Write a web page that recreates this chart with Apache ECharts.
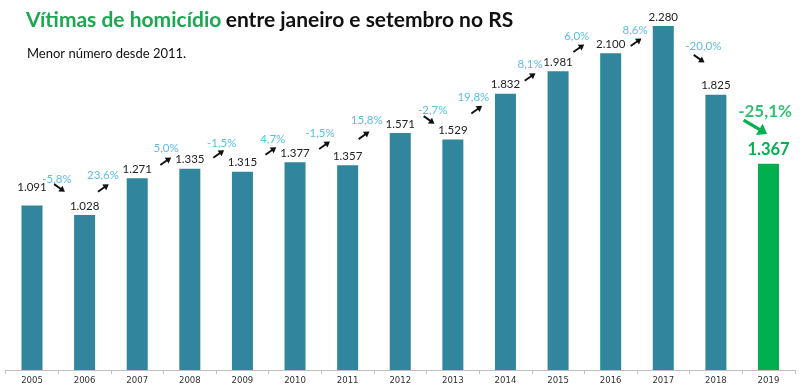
<!DOCTYPE html>
<html>
<head>
<meta charset="utf-8">
<script src="https://cdn.jsdelivr.net/npm/echarts@6/dist/echarts.min.js"></script>
<style>
html,body{margin:0;padding:0;background:#fff;}
#chart{width:800px;height:390px;}
</style>
</head>
<body>
<div id="chart"></div>
<script>
// ---- data ----
var years = ['2005','2006','2007','2008','2009','2010','2011','2012','2013','2014','2015','2016','2017','2018','2019'];
var victims = [1091, 1028, 1271, 1335, 1315, 1377, 1357, 1571, 1529, 1832, 1981, 2100, 2280, 1825, 1367];
var pctText = ['-5,8%','23,6%','5,0%','-1,5%','4,7%','-1,5%','15,8%','-2,7%','19,8%','8,1%','6,0%','8,6%','-20,0%','-25,1%'];
// annotation anchors in data units (x: category index, y: value)
var pctLabelX = [0.475, 1.35, 2.548, 3.606, 4.576, 5.475, 6.363, 7.618, 8.39, 9.468, 10.355, 11.464, 12.762, 13.935];
var pctLabelY = [1266, 1293, 1470, 1503, 1532, 1570, 1653, 1724, 1808, 2030, 2210, 2255, 2144, 1713];
var arrowX = [0.523, 1.356, 2.542, 3.549, 4.54, 5.561, 6.312, 7.548, 8.454, 9.468, 10.394, 11.483, 12.681, 13.75];
var arrowY = [1207, 1207, 1384, 1432, 1452, 1490, 1556, 1658, 1726, 1943, 2133, 2173, 2064, 1611];
var arrowDir = [-1, 1, 1, 1, 1, 1, 1, -1, 1, 1, 1, 1, -1, -1];

var TEAL = '#31859C';
var GREEN = '#00B050';
var BLUE = '#33ACDF';
var FONT = 'Lato, "Open Sans", sans-serif';

function fmt(v){ return String(v).replace(/\B(?=(\d{3})+(?!\d))/g, '.'); }

var lastIdx = years.length - 1;
var barData = victims.map(function(v, i){
  if (i === lastIdx) {
    return {
      value: v,
      itemStyle: {color: GREEN},
      label: {color: GREEN, fontSize: 16.5, fontWeight: 'bold', distance: 6}
    };
  }
  if (i === 0) {
    return {value: v, label: {distance: 12}};
  }
  return v;
});

var labelData = pctText.map(function(t, i){
  var big = i === pctText.length - 1;
  return {
    value: [pctLabelX[i], pctLabelY[i]],
    label: big ? {formatter: t, color: GREEN, fontSize: 17, fontWeight: 'bold'} : {formatter: t}
  };
});

var arrowData = arrowX.map(function(x, i){
  return [x, arrowY[i], arrowDir[i], i === arrowX.length - 1 ? 1 : 0];
});

var chart = echarts.init(document.getElementById('chart'), null, {renderer: 'canvas'});
chart.setOption({
  animation: false,
  backgroundColor: '#fff',
  textStyle: {fontFamily: FONT},
  title: [{
    text: '{g|Vítimas de homicídio} {b|entre janeiro e setembro no RS}',
    left: 21, top: 5,
    textStyle: {
      rich: {
        g: {color: '#1BA851', fontSize: 21, fontWeight: 'bold', fontFamily: FONT},
        b: {color: '#111', fontSize: 21, fontWeight: 'bold', fontFamily: FONT}
      }
    }
  }, {
    text: 'Menor número desde 2011.',
    left: 22, top: 42,
    textStyle: {color: '#111', fontSize: 13, fontWeight: 'normal', fontFamily: FONT}
  }],
  grid: {left: 5.7, right: 5.2, top: 8, bottom: 20, containLabel: false},
  xAxis: [{
    type: 'category',
    data: years,
    boundaryGap: true,
    axisLine: {show: true, lineStyle: {color: '#BFBFBF', width: 1}},
    axisTick: {show: true, length: 4, lineStyle: {color: '#BFBFBF'}},
    axisLabel: {color: '#333', fontSize: 9.5, margin: 6, fontFamily: '"Liberation Sans Narrow", "DejaVu Sans Condensed", Lato, sans-serif'}
  }, {
    type: 'value',
    min: -0.5, max: 14.5,
    show: false
  }],
  yAxis: {
    type: 'value', min: 0, max: 2400, show: false
  },
  series: [{
    type: 'bar',
    data: barData,
    barWidth: 21,
    itemStyle: {color: TEAL},
    label: {
      show: true, position: 'top', distance: 3,
      color: '#222', fontSize: 11.5, fontFamily: FONT,
      formatter: function(p){ return fmt(p.value); }
    },
    z: 2
  }, {
    type: 'scatter',
    xAxisIndex: 1,
    data: labelData,
    symbolSize: 0,
    silent: true,
    label: {
      show: true, position: 'inside',
      color: BLUE, fontSize: 11.5, fontFamily: FONT
    },
    z: 3
  }, {
    type: 'custom',
    xAxisIndex: 1,
    data: arrowData,
    silent: true,
    z: 4,
    renderItem: function(params, api){
      var c = api.coord([api.value(0), api.value(1)]);
      var dir = api.value(2);
      var big = api.value(3) === 1;
      var dx = big ? 11.7 : 5.4;
      var dy = big ? 7 : 3.8;
      var x1 = c[0] - dx, y1 = c[1] + dir * dy;
      var x2 = c[0] + dx, y2 = c[1] - dir * dy;
      var len = Math.sqrt((x2 - x1) * (x2 - x1) + (y2 - y1) * (y2 - y1));
      var ux = (x2 - x1) / len, uy = (y2 - y1) / len;
      var nx = -uy, ny = ux;
      var h = big ? 9 : 5.5, w = big ? 6.5 : 3.5;
      var bx = x2 - ux * h, by = y2 - uy * h;
      var color = big ? GREEN : '#111';
      return {
        type: 'group',
        children: [{
          type: 'line',
          shape: {x1: x1, y1: y1, x2: bx + ux * 1, y2: by + uy * 1},
          style: {stroke: color, lineWidth: big ? 3.2 : 1.9}
        }, {
          type: 'polygon',
          shape: {points: [[x2, y2], [bx + nx * w, by + ny * w], [bx - nx * w, by - ny * w]]},
          style: {fill: color}
        }]
      };
    }
  }]
});
</script>
</body>
</html>
